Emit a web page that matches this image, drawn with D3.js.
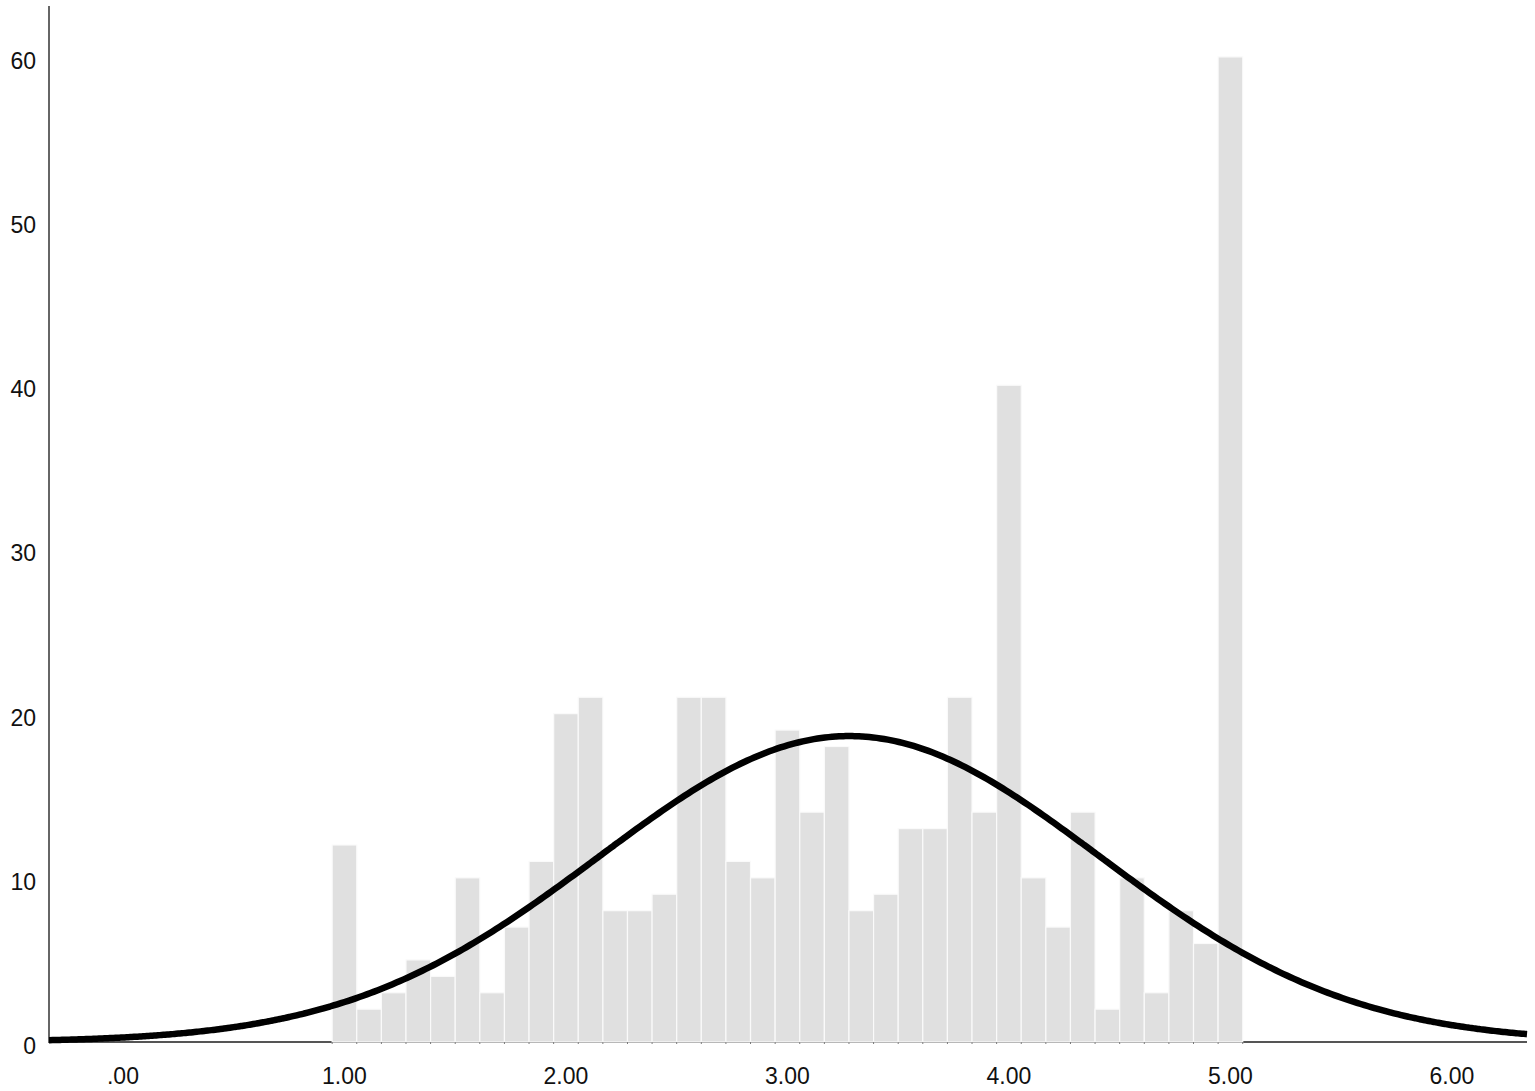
<!DOCTYPE html>
<html><head><meta charset="utf-8">
<script src="https://cdn.jsdelivr.net/npm/d3@7"></script>
<style>body{margin:0;background:#fff}svg text{font-family:"Liberation Sans",Arial,sans-serif}</style>
</head><body><svg id="c" width="1535" height="1091"></svg>
<script>
// bin centers: 1.00 to 5.00 in steps of 1/9
const binStart = 1.0, binStep = 1/9;
const counts = [12,2,3,5,4,10,3,7,11,20,21,8,8,9,21,21,11,10,19,14,18,8,9,13,13,21,14,40,10,7,14,2,10,3,8,6,60];
const xTicks = [0,1,2,3,4,5,6];
const xTickLabels = [".00","1.00","2.00","3.00","4.00","5.00","6.00"];
const yTicks = [0,10,20,30,40,50,60];
const fitMean = 3.28, fitSd = 1.13;

const svg = d3.select("#c");
const x = d3.scaleLinear().domain([-0.334, 6.339]).range([49, 1527]);
const y = d3.scaleLinear().domain([0, 63.1]).range([1042, 6]);

const bins = counts.map((c,i)=>({c, x0: binStart + (i-0.5)*binStep, x1: binStart + (i+0.5)*binStep}));

// x axis line
svg.append("line").attr("x1",x.range()[0]).attr("x2",x.range()[1]).attr("y1",y(0)).attr("y2",y(0))
  .attr("stroke","#555").attr("stroke-width",2);

// bars
svg.append("g").selectAll("rect").data(bins).join("rect")
  .attr("x",d=>x(d.x0)).attr("width",d=>x(d.x1)-x(d.x0))
  .attr("y",d=>y(d.c)).attr("height",d=>y(0)-y(d.c))
  .attr("fill","#e0e0e0").attr("stroke","#fafafa").attr("stroke-width",1.2);

// small ticks at bin edges
const edges = bins.map(d=>d.x0).concat([bins[bins.length-1].x1]);
svg.append("g").selectAll("line").data(edges).join("line")
  .attr("x1",d=>x(d)).attr("x2",d=>x(d)).attr("y1",y(0)).attr("y2",y(0)+2)
  .attr("stroke","#777").attr("stroke-width",1);

svg.append("line").attr("x1",49).attr("x2",49).attr("y1",y.range()[1]).attr("y2",y(0)+1)
  .attr("stroke","#666").attr("stroke-width",2);

// normal curve
const N = d3.sum(counts);
const pdf = v => Math.exp(-0.5*((v-fitMean)/fitSd)**2)/(fitSd*Math.sqrt(2*Math.PI));
const xs = d3.range(0,401).map(i=> x.domain()[0] + i*(x.domain()[1]-x.domain()[0])/400);
svg.append("path").datum(xs)
  .attr("d", d3.line().x(v=>x(v)).y(v=>y(N*binStep*pdf(v))).curve(d3.curveBasis))
  .attr("fill","none").attr("stroke","#000").attr("stroke-width",6.5).attr("stroke-linecap","butt");

// y labels
svg.append("g").selectAll("text").data(yTicks).join("text")
  .attr("x",36).attr("y",d=>y(d)+4).attr("dy","0.35em").attr("text-anchor","end")
  .attr("font-size",23).attr("fill","#111").text(d=>d);

// x labels
svg.append("g").selectAll("text").data(xTicks).join("text")
  .attr("x",(d)=>x(d)).attr("y",1076).attr("dy","0.35em").attr("text-anchor","middle")
  .attr("font-size",23).attr("fill","#111").text((d,i)=>xTickLabels[i]);
</script></body></html>
